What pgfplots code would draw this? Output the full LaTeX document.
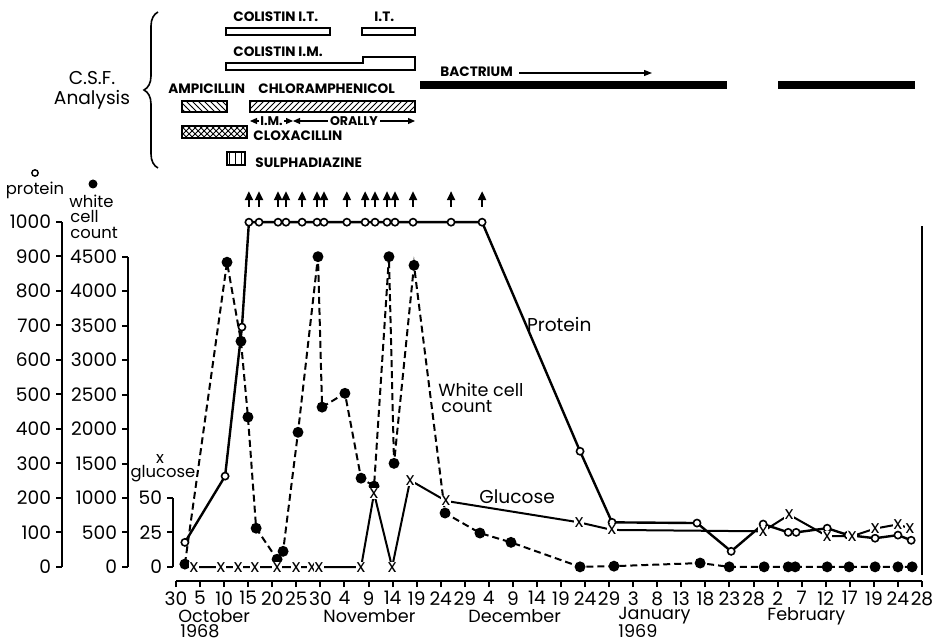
\documentclass[border=0pt]{standalone}
\usepackage{pgfplots}
\pgfplotsset{compat=1.18}
\usepackage{pgfplotstable}
\usepackage{fontspec}
\setmainfont{Poppins}
\usetikzlibrary{patterns,arrows.meta,decorations.pathreplacing}
\pgfplotsset{/pgf/number format/assume math mode=true, /pgf/number format/1000 sep={}}
\newcommand\lbl{\fontsize{6.8}{7}\selectfont\bfseries}
\newcommand\txt{\fontsize{9.3}{10}\selectfont}
\newcommand\sml{\fontsize{8.2}{9}\selectfont}

\pgfplotstableread{
x y
0.37 72
2.04 264
2.74 696
3.03 1000
3.45 1000
4.24 1000
4.57 1000
5.24 1000
5.86 1000
6.15 1000
7.10 1000
7.86 1000
8.27 1000
8.77 1000
9.10 1000
9.85 1000
11.43 1000
12.72 1000
16.79 336
18.12 130
21.65 128
23.07 46
24.40 125
25.44 101
25.77 101
27.06 113
27.93 93
29.05 84
30.00 93
30.55 78
}\protein

\pgfplotstableread{
x w
0.37 45
2.12 4420
2.70 3275
2.99 2175
3.33 565
4.20 115
4.45 230
5.07 1955
5.90 4500
6.07 2320
7.02 2520
7.69 1290
8.23 1175
8.85 4500
9.06 1505
9.89 4375
11.18 785
12.63 495
13.92 360
16.79 5
18.20 15
21.78 60
22.99 5
24.44 5
25.44 5
25.73 5
27.06 5
27.97 5
29.05 5
30.00 5
30.59 5
}\wbc

\pgfplotstableread{
x g
0.75 0
1.87 0
2.58 0
3.28 0
4.20 0
4.99 0
5.65 0
5.94 0
7.69 0
8.23 53.5
8.98 0
9.73 63
11.22 48
16.75 32.5
18.12 27
24.40 26
25.48 38
27.06 22.5
28.10 22.5
29.05 28
30.00 31
30.50 28
}\glucose

\pgfplotstableread{
x y
3.03 1045
3.45 1045
4.24 1045
4.57 1045
5.24 1045
5.86 1045
6.15 1045
7.10 1045
7.86 1045
8.27 1045
8.77 1045
9.10 1045
9.85 1045
11.43 1045
12.72 1045
}\arrowsat

\begin{document}
\begin{tikzpicture}[font=\txt]
\useasboundingbox (0,0) rectangle (467.5pt,320.5pt);

% protein axis
\begin{axis}[at={(31pt,37pt)}, anchor=south west, scale only axis,
  width=1pt, height=172.5pt, xmin=0, xmax=1, ymin=0, ymax=1000,
  axis y line=left, axis x line=none, ytick={0,100,...,1000},
  tick align=outside, major tick length=3pt,
  axis line style={-, line width=1.2pt}, tick style={line width=1pt, black},
  yticklabel style={font=\txt, xshift=1pt}]
\end{axis}
% wbc axis
\begin{axis}[at={(64pt,37pt)}, anchor=south west, scale only axis,
  width=1pt, height=155.25pt, xmin=0, xmax=1, ymin=0, ymax=4500,
  axis y line=left, axis x line=none, ytick={0,500,...,4500},
  tick align=outside, major tick length=3pt,
  axis line style={-, line width=1.2pt}, tick style={line width=1pt, black},
  yticklabel style={font=\txt, xshift=1pt}]
\end{axis}
% glucose axis
\begin{axis}[at={(86.5pt,37pt)}, anchor=south west, scale only axis,
  width=1pt, height=34.5pt, xmin=0, xmax=1, ymin=0, ymax=50,
  axis y line=left, axis x line=none, ytick={0,25,50},
  tick align=outside, major tick length=3pt,
  axis line style={-, line width=1.2pt}, tick style={line width=1pt, black},
  yticklabel style={font=\txt, xshift=1pt}]
\end{axis}

% main axis
\begin{axis}[at={(88pt,30pt)}, anchor=south west, scale only axis,
  width=373pt, height=179.4pt, xmin=0, xmax=31, ymin=-40, ymax=1000,
  axis x line=bottom, axis y line=none, clip=false,
  xtick={0,...,31},
  xticklabels={30,5,10,15,20,25,30,4,9,14,19,24,29,4,9,14,19,24,29,3,8,13,18,23,28,2,7,12,17,19,24,28},
  tick align=outside, major tick length=3pt,
  axis line style={-, line width=1.4pt}, tick style={line width=1pt, black},
  xticklabel style={font=\txt, inner sep=1pt, yshift=-1pt}]

  \addplot[black, line width=1pt, dash pattern=on 3.5pt off 2pt,
    mark=*, mark size=2.2pt, mark options={solid, fill=black}]
    table[x=x, y expr=\thisrow{w}/5] {\wbc};
  \addplot[black, line width=1.2pt, mark=*, mark size=1.8pt,
    mark options={solid, fill=white, line width=0.8pt}]
    table[x=x, y=y] {\protein};
  \addplot[black, line width=1pt, mark=text, text mark={x},
    text mark as node=true,
    text mark style={fill=white, inner sep=0.3pt, font=\fontsize{9}{9}\selectfont}]
    table[x=x, y expr=\thisrow{g}*4] {\glucose};
  \addplot[black, line width=1pt, -{Triangle[length=4.5pt,width=4pt]},
    quiver={u=0,v=45}, mark=none] table[x=x, y=y] {\arrowsat};

  \draw[line width=1.2pt] (axis cs:31,-23) -- (axis cs:31,990);
\end{axis}

% annotations in pixel coordinates
\begin{scope}[x=0.5pt, y=-0.5pt, shift={(0,320.5pt)}]
  % in-plot labels
  \node[anchor=west] at (520,325) {Protein};
  \node[anchor=west, inner sep=0, font=\fontsize{8.8}{9}\selectfont] at (438,390) {White cell};
  \node[anchor=west, inner sep=0, font=\fontsize{8.8}{9}\selectfont] at (441,407) {count};
  \node[anchor=west, inner sep=0] at (479,497) {Glucose};

  % axis titles
  \draw[line width=0.7pt] (35,173) circle (3.2);
  \node[inner sep=0, font=\sml] at (35,190) {protein};
  \fill (93,184) circle (4.5);
  \node[anchor=west, inner sep=0, font=\sml] at (69,201) {white};
  \node[anchor=west, inner sep=0, font=\sml] at (70,217) {cell};
  \node[anchor=west, inner sep=0, font=\sml] at (70,233) {count};
  \node[inner sep=0, font=\sml] at (160,459) {x};
  \node[inner sep=0, font=\sml] at (163,474) {glucose};

  % months
  \node[anchor=west, inner sep=0, font=\fontsize{8.8}{9}\selectfont] at (178,616) {October};
  \node[anchor=west, inner sep=0, font=\fontsize{8.8}{9}\selectfont] at (180,631) {1968};
  \node[anchor=west, inner sep=0, font=\fontsize{8.8}{9}\selectfont] at (323,616) {November};
  \node[anchor=west, inner sep=0, font=\fontsize{8.8}{9}\selectfont] at (468,616) {December};
  \node[anchor=west, inner sep=0, font=\fontsize{8.8}{9}\selectfont] at (618,616) {January};
  \node[anchor=west, inner sep=0, font=\fontsize{8.8}{9}\selectfont] at (618,631) {1969};
  \node[anchor=west, inner sep=0, font=\fontsize{8.8}{9}\selectfont] at (767,616) {February};

  % C.S.F.
  \node[inner sep=0] at (92,78) {C.S.F.};
  \node[inner sep=0] at (92,100) {Analysis};

  % treatment bars
  \node[anchor=west, inner sep=0, font=\lbl] at (233,17) {COLISTIN I.T.};
  \node[anchor=west, inner sep=0, font=\lbl] at (374,17) {I.T.};
  \draw[line width=0.8pt] (226,28) rectangle (330,35);
  \draw[line width=0.8pt] (362,28) rectangle (415,35);
  \node[anchor=west, inner sep=0, font=\lbl] at (233,52) {COLISTIN I.M.};
  \draw[line width=0.8pt] (226,63) -- (226,70) -- (415,70) -- (415,57) -- (363,57) -- (363,63) -- cycle;
  \node[anchor=west, inner sep=0, font=\lbl] at (440,72) {BACTRIUM};
  \draw[line width=0.6pt, -{Triangle[length=4pt,width=3pt]}] (519,73) -- (652,73);
  \fill (420,81) rectangle (727,89);
  \fill (778,81) rectangle (915,89);
  \node[anchor=west, inner sep=0, font=\lbl] at (168,89) {AMPICILLIN};
  \node[anchor=west, inner sep=0, font=\lbl] at (258,89) {CHLORAMPHENICOL};
  \draw[line width=0.8pt, pattern=north west lines] (182,101) rectangle (227,112);
  \draw[line width=0.8pt, pattern=north east lines] (250,101) rectangle (415,112);
  \draw[line width=0.6pt, {Triangle[length=3.5pt,width=3pt]}-{Triangle[length=3.5pt,width=3pt]}] (250,121) -- node[fill=white, inner sep=0.5pt, font=\fontsize{6.3}{7}\selectfont\bfseries]{I.M.} (293,121);
  \draw[line width=0.6pt, {Triangle[length=3.5pt,width=3pt]}-{Triangle[length=3.5pt,width=3pt]}] (293,121) -- node[fill=white, inner sep=1pt, font=\fontsize{6.3}{7}\selectfont\bfseries]{ORALLY} (415,121);
  \draw[line width=0.8pt, pattern=crosshatch] (182,126) rectangle (247,138);
  \node[anchor=west, inner sep=0, font=\lbl] at (253,136) {CLOXACILLIN};
  \draw[line width=0.8pt, pattern=vertical lines] (227,152) rectangle (245,165);
  \node[anchor=west, inner sep=0, font=\lbl] at (255,163) {SULPHADIAZINE};
\end{scope}

% brace
\draw[line width=0.8pt, decorate, decoration={brace, amplitude=7pt}] (79pt,236.5pt) -- (79pt,314.5pt);
\end{tikzpicture}
\end{document}
